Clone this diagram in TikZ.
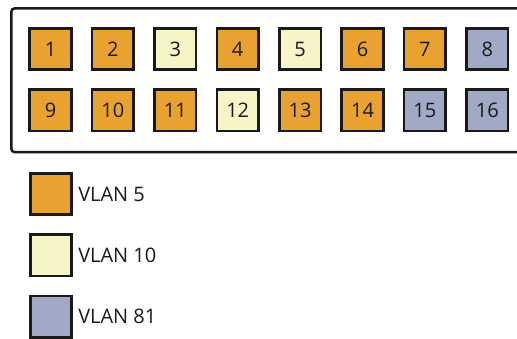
\documentclass[tikz,border=0pt]{standalone}
\usepackage{fontspec}
\setmainfont{Open Sans}
\usetikzlibrary{positioning}
\definecolor{vlanfive}{HTML}{E9A130}
\definecolor{vlanten}{HTML}{F5F5C6}
\definecolor{vlanbig}{HTML}{A0AAC6}
\definecolor{ink}{HTML}{1A1A1A}

\begin{document}
\begin{tikzpicture}[
  x=1pt, y=1pt,
  node distance = 17pt and 18.3pt,
  port/.style   = {rectangle, minimum size=41.5pt, inner sep=0pt, line width=2.6pt,
                   draw=ink, text=ink, font=\fontsize{20}{20}\selectfont},
  panel/.style  = {rectangle, rounded corners=3pt, line width=2.5pt, draw=ink, fill=white,
                   minimum width=530pt, minimum height=143.6pt, anchor=north west},
  key/.style    = {port},
  keytext/.style= {inner sep=0pt, text=ink, font=\fontsize{20}{20}\selectfont},
]
  \useasboundingbox (0,0) rectangle (517,-338);

  \node[panel] (switch) at (10.2,-7.2) {};

  % top row
  \node[port, fill=vlanfive] (p1) at (50.5,-49) {1};
  \node[port, fill=vlanfive, right=of p1] (p2) {2};
  \node[port, fill=vlanten,  right=of p2] (p3) {3};
  \node[port, fill=vlanfive, right=of p3] (p4) {4};
  \node[port, fill=vlanten,  right=of p4] (p5) {5};
  \node[port, fill=vlanfive, right=of p5] (p6) {6};
  \node[port, fill=vlanfive, right=of p6] (p7) {7};
  \node[port, fill=vlanbig,  right=of p7] (p8) {8};

  % bottom row
  \node[port, fill=vlanfive, below=of p1] (p9)  {9};
  \node[port, fill=vlanfive, below=of p2] (p10) {10};
  \node[port, fill=vlanfive, below=of p3] (p11) {11};
  \node[port, fill=vlanten,  below=of p4] (p12) {12};
  \node[port, fill=vlanfive, below=of p5] (p13) {13};
  \node[port, fill=vlanfive, below=of p6] (p14) {14};
  \node[port, fill=vlanbig,  below=of p7] (p15) {15};
  \node[port, fill=vlanbig,  below=of p8] (p16) {16};

  % legend
  \node[key, fill=vlanfive] (k5)  at (51,-194) {};
  \node[key, fill=vlanten, below=17.3pt of k5]  (k10) {};
  \node[key, fill=vlanbig, below=17.3pt of k10] (k81) {};

  \node[keytext, right=5pt of k5]  (t5)  {VLAN 5};
  \node[keytext, right=5pt of k10] (t10) {VLAN 10};
  \node[keytext, right=5pt of k81] (t81) {VLAN 81};
\end{tikzpicture}
\end{document}
